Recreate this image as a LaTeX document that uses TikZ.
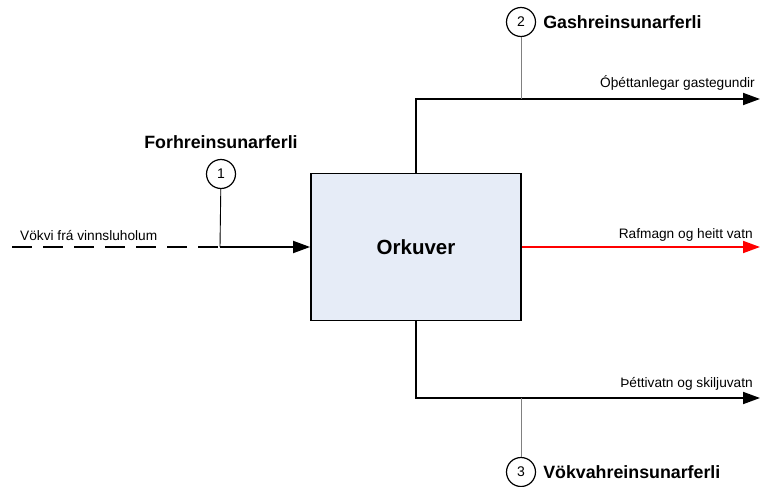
\documentclass[tikz,border=0pt]{standalone}
\usepackage{fontspec}
\setmainfont{Liberation Sans}
\usetikzlibrary{arrows.meta,positioning}
\definecolor{boxfill}{RGB}{230,236,247}
\definecolor{stemgray}{RGB}{128,128,128}
\tikzset{
  flow/.style={line width=1.8pt,-{Triangle[length=17pt,width=12pt]}},
  stem/.style={line width=0.9pt,stemgray},
  stepnum/.style={circle,draw,line width=1.2pt,minimum size=29pt,inner sep=0pt,font=\fontsize{14}{16}\selectfont},
  steptitle/.style={font=\bfseries\fontsize{17.8}{20}\selectfont,inner sep=0pt},
  flowlabel/.style={font=\fontsize{13.7}{16}\selectfont,inner sep=0pt}
}
\begin{document}
\begin{tikzpicture}[x=1pt,y=1pt,yscale=-1]
\useasboundingbox (0,0) rectangle (760,487);

%Main box
\node [draw,line width=1.8pt,fill=boxfill,minimum width=210pt,minimum height=147pt,font=\bfseries\fontsize{20.5}{24}\selectfont] (orkuver) at (416,247) {Orkuver};

%Input line
\coordinate (inn) at (12,247);
\coordinate (inmid) at (220,247);
\draw [line width=1.8pt,dash pattern=on 20pt off 11pt] (inn) -- (inmid);
\draw [flow] (inmid) -- (orkuver.west);
\node [flowlabel,anchor=base west] (innlabel) at (20,240) {Vökvi frá vinnsluholum};

%Step 1
\node [stepnum] (c1) at (221,174) {1};
\node [steptitle] (t1) at (221,142) {Forhreinsunarferli};
\draw [line width=0.9pt] (c1) -- (inmid);

%Gas output
\coordinate (gasout) at (760,99);
\draw [flow] (orkuver.north) |- (gasout);
\node [flowlabel,anchor=base east] (gaslabel) at (755,87) {Óþéttanlegar gastegundir};
\node [stepnum] (c2) at (521,22) {2};
\node [steptitle,right=7pt of c2] (t2) {Gashreinsunarferli};
\draw [stem] (c2) -- (c2 |- gasout);

%Power output
\coordinate (powout) at (760,247);
\draw [flow,red] (orkuver.east) -- (powout);
\node [flowlabel,anchor=base east] (powlabel) at (753,238) {Rafmagn og heitt vatn};

%Liquid output
\coordinate (liqout) at (760,398);
\draw [flow] (orkuver.south) |- (liqout);
\node [flowlabel,anchor=base east] (liqlabel) at (753,387) {Þéttivatn og skiljuvatn};
\node [stepnum] (c3) at (521,472) {3};
\node [steptitle,right=7pt of c3] (t3) {Vökvahreinsunarferli};
\draw [stem] (c3) -- (c3 |- liqout);

\end{tikzpicture}
\end{document}
